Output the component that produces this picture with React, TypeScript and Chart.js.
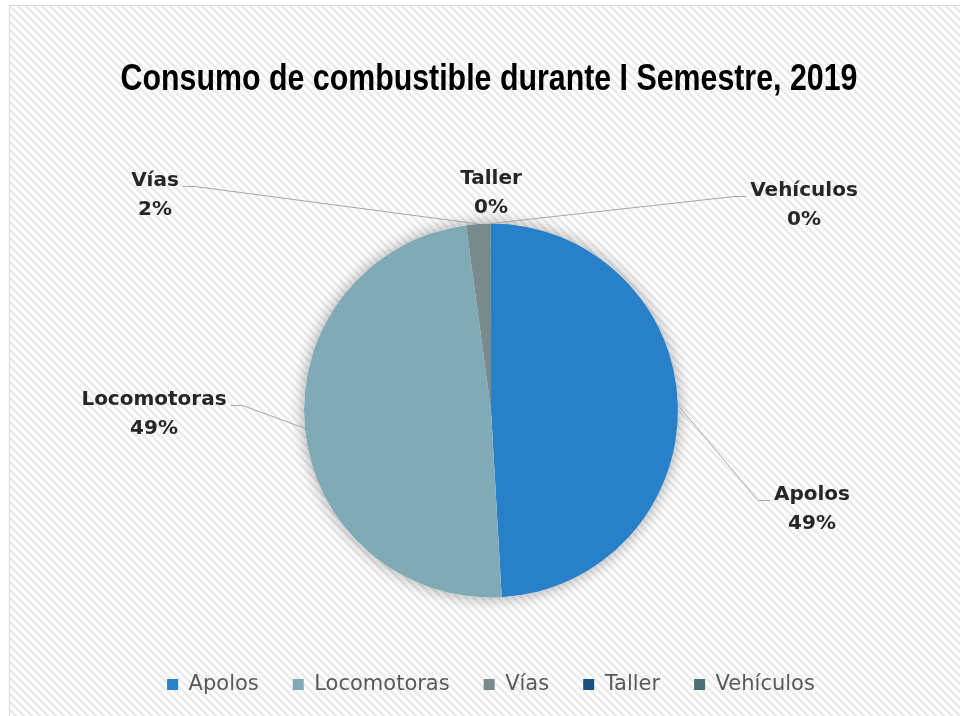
import React, { useEffect, useRef } from "react";
import { Chart, registerables } from "chart.js";

Chart.register(...registerables);

const TITLE = "Consumo de combustible durante I Semestre, 2019";
const categories = ["Apolos", "Locomotoras", "Vías", "Taller", "Vehículos"];
const values = [49.1, 48.8, 2.1, 0.02, 0.01];
const sliceColors = ["#2780c8", "#80aab6", "#788a8c", "#1d4e7b", "#496e76"];
// label placement: offset of the label's first line from the pie centre (px)
const labelOffsetX = [321, -337, -336, 0, 313];
const labelOffsetY = [82, -13, -232, -234, -222];

const LABEL_FONT = 'bold 20px "DejaVu Sans", sans-serif';
const LEGEND_PAD = 34;

const decorPlugin = {
  id: "decor",
  beforeDraw(chart: any) {
    const { ctx, width, height } = chart;
    ctx.save();
    ctx.fillStyle = "#ffffff";
    ctx.fillRect(0, 0, width, height);
    ctx.beginPath();
    ctx.rect(9, 5, width - 9, height - 5);
    ctx.clip();
    ctx.strokeStyle = "#eaeaea";
    ctx.lineWidth = 2.5;
    ctx.beginPath();
    for (let x = -height; x < width + 10; x += 8) {
      ctx.moveTo(x, 0);
      ctx.lineTo(x + height, height);
    }
    ctx.stroke();
    ctx.restore();
    ctx.save();
    ctx.strokeStyle = "#d9d9d9";
    ctx.lineWidth = 1;
    ctx.beginPath();
    ctx.moveTo(9.5, height);
    ctx.lineTo(9.5, 5.5);
    ctx.lineTo(width, 5.5);
    ctx.stroke();
    ctx.restore();
    // title (Arial Narrow Bold look: Liberation Sans Bold compressed horizontally)
    ctx.save();
    ctx.font = 'bold 37px "Liberation Sans", Arial, sans-serif';
    ctx.fillStyle = "#000000";
    ctx.textAlign = "center";
    ctx.textBaseline = "alphabetic";
    ctx.translate(489, 89.5);
    ctx.scale(0.82, 1);
    ctx.fillText(TITLE, 0, 0);
    ctx.restore();
  },
  beforeDatasetsDraw(chart: any) {
    const { ctx } = chart;
    const arc = chart.getDatasetMeta(0).data[0];
    if (!arc) return;
    ctx.save();
    ctx.shadowColor = "rgba(0,0,0,0.35)";
    ctx.shadowBlur = 16;
    ctx.fillStyle = "#ffffff";
    ctx.beginPath();
    ctx.arc(arc.x, arc.y, arc.outerRadius, 0, Math.PI * 2);
    ctx.fill();
    ctx.restore();
  },
  afterDatasetsDraw(chart: any) {
    const { ctx } = chart;
    const meta = chart.getDatasetMeta(0);
    const data = chart.data.datasets[0].data as number[];
    const total = data.reduce((a, b) => a + b, 0);
    ctx.save();
    ctx.font = LABEL_FONT;
    meta.data.forEach((arc: any, i: number) => {
      const mid = (arc.startAngle + arc.endAngle) / 2;
      const ax = arc.x + Math.cos(mid) * arc.outerRadius;
      const ay = arc.y + Math.sin(mid) * arc.outerRadius;
      const cx = arc.x + labelOffsetX[i];
      const y1 = arc.y + labelOffsetY[i];
      const y2 = y1 + 29;
      const t1 = chart.data.labels[i] as string;
      const t2 = Math.round((data[i] / total) * 100) + "%";
      const w = Math.max(ctx.measureText(t1).width, ctx.measureText(t2).width);
      let ex: number | null = null;
      let dir = 0;
      if (cx - w / 2 > ax + 10) {
        ex = cx - w / 2 - 4;
        dir = -1;
      } else if (cx + w / 2 < ax - 10) {
        ex = cx + w / 2 + 4;
        dir = 1;
      }
      if (ex !== null) {
        const ey = y1 + 8;
        ctx.strokeStyle = "#a6a6a6";
        ctx.lineWidth = 1;
        ctx.beginPath();
        ctx.moveTo(ax, ay);
        ctx.lineTo(ex + dir * 12, ey);
        ctx.lineTo(ex, ey);
        ctx.stroke();
      }
      ctx.fillStyle = "#262626";
      ctx.textAlign = "center";
      ctx.textBaseline = "alphabetic";
      ctx.fillText(t1, cx, y1 + 7);
      ctx.fillText(t2, cx, y2 + 7);
    });
    ctx.restore();
  },
};

export default function App() {
  const ref = useRef<HTMLCanvasElement | null>(null);
  useEffect(() => {
    document.body.style.margin = "0";
    const canvas = ref.current;
    if (!canvas) return;
    const chart = new Chart(canvas, {
      type: "pie",
      data: {
        labels: categories,
        datasets: [
          {
            data: values,
            backgroundColor: sliceColors,
            borderWidth: 0,
            radius: 187,
          },
        ],
      },
      options: {
        responsive: false,
        animation: false,
        layout: { padding: { left: 22, right: 0, top: 147 + LEGEND_PAD, bottom: 11 } },
        plugins: {
          tooltip: { enabled: false },
          title: { display: false },
          legend: {
            position: "bottom",
            labels: {
              color: "#595959",
              font: { family: '"DejaVu Sans", sans-serif', size: 21 },
              boxWidth: 11,
              boxHeight: 11,
              padding: LEGEND_PAD,
            },
          },
        },
      },
      plugins: [decorPlugin],
    });
    return () => chart.destroy();
  }, []);
  return (
    <div style={{ position: "absolute", left: 0, top: 0, width: 960, height: 716 }}>
      <canvas ref={ref} width={960} height={716} style={{ display: "block" }} />
    </div>
  );
}
